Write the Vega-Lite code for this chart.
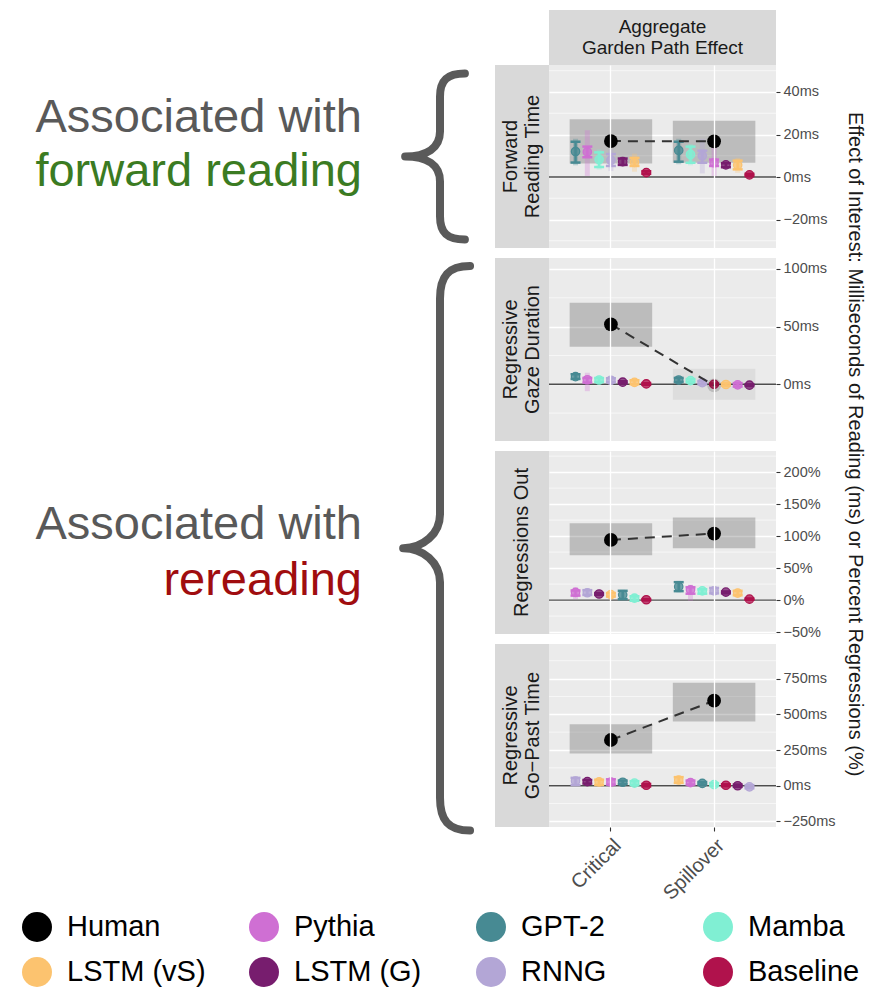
{
"$schema": "https://vega.github.io/schema/vega-lite/v6.json",
"padding": {"left": 0, "top": 10, "right": 20, "bottom": 0},
"config": {"font": "Liberation Sans", "view": {"stroke": null}, "axis": {"labelOverlap": false}},
"datasets": {
"all": [
{"measure":"Forward Reading Time","region":"Critical","model":"Human","v":16.9,"lo":6.4,"hi":27.2},
{"measure":"Forward Reading Time","region":"Spillover","model":"Human","v":16.8,"lo":6.7,"hi":26.5},
{"measure":"Regressive Gaze Duration","region":"Critical","model":"Human","v":52,"lo":32.6,"hi":70.8},
{"measure":"Regressive Gaze Duration","region":"Spillover","model":"Human","v":-1,"lo":-13.5,"hi":13.5},
{"measure":"Regressions Out","region":"Critical","model":"Human","v":94,"lo":70,"hi":120},
{"measure":"Regressions Out","region":"Spillover","model":"Human","v":104,"lo":81,"hi":129},
{"measure":"Regressive Go-Past Time","region":"Critical","model":"Human","v":320,"lo":225,"hi":430},
{"measure":"Regressive Go-Past Time","region":"Spillover","model":"Human","v":595,"lo":450,"hi":720},

{"measure":"Forward Reading Time","region":"Critical","model":"GPT-2","v":12.0,"lo":6.8,"hi":16.6,"lo2":5.5,"hi2":18},
{"measure":"Forward Reading Time","region":"Critical","model":"Pythia","v":11.8,"lo":9.3,"hi":14.3,"lo2":0.5,"hi2":22},
{"measure":"Forward Reading Time","region":"Critical","model":"Mamba","v":8.2,"lo":4.7,"hi":11.6,"lo2":3.5,"hi2":13},
{"measure":"Forward Reading Time","region":"Critical","model":"RNNG","v":7.9,"lo":5.2,"hi":10.8,"lo2":2.8,"hi2":13},
{"measure":"Forward Reading Time","region":"Critical","model":"LSTM (G)","v":7.2,"lo":5.7,"hi":8.7,"lo2":5,"hi2":9.5},
{"measure":"Forward Reading Time","region":"Critical","model":"LSTM (vS)","v":6.9,"lo":5.2,"hi":9.0,"lo2":2.5,"hi2":11},
{"measure":"Forward Reading Time","region":"Critical","model":"Baseline","v":2.1,"lo":1.5,"hi":2.7,"lo2":1.2,"hi2":3},

{"measure":"Forward Reading Time","region":"Spillover","model":"GPT-2","v":12.5,"lo":7.2,"hi":16.6,"lo2":6,"hi2":18},
{"measure":"Forward Reading Time","region":"Spillover","model":"Mamba","v":10.6,"lo":6.7,"hi":14.3,"lo2":5.5,"hi2":15.5},
{"measure":"Forward Reading Time","region":"Spillover","model":"RNNG","v":10.0,"lo":6.7,"hi":12.4,"lo2":1.7,"hi2":18},
{"measure":"Forward Reading Time","region":"Spillover","model":"Pythia","v":6.7,"lo":5.2,"hi":8.2,"lo2":0.5,"hi2":17},
{"measure":"Forward Reading Time","region":"Spillover","model":"LSTM (G)","v":5.7,"lo":4.6,"hi":6.5,"lo2":4,"hi2":7},
{"measure":"Forward Reading Time","region":"Spillover","model":"LSTM (vS)","v":5.6,"lo":3.6,"hi":7.7,"lo2":2,"hi2":9},
{"measure":"Forward Reading Time","region":"Spillover","model":"Baseline","v":1.0,"lo":0.5,"hi":1.5,"lo2":0.3,"hi2":1.7},

{"measure":"Regressive Gaze Duration","region":"Critical","model":"GPT-2","v":6.6,"lo":4.6,"hi":8.7,"lo2":4,"hi2":9.3},
{"measure":"Regressive Gaze Duration","region":"Critical","model":"Pythia","v":3.9,"lo":1.5,"hi":5.5,"lo2":-6,"hi2":10},
{"measure":"Regressive Gaze Duration","region":"Critical","model":"Mamba","v":3.7,"lo":2.0,"hi":5.4,"lo2":1.5,"hi2":6},
{"measure":"Regressive Gaze Duration","region":"Critical","model":"RNNG","v":3.5,"lo":1.8,"hi":5.2,"lo2":0,"hi2":7},
{"measure":"Regressive Gaze Duration","region":"Critical","model":"LSTM (G)","v":1.8,"lo":0.8,"hi":2.6,"lo2":0.5,"hi2":3},
{"measure":"Regressive Gaze Duration","region":"Critical","model":"LSTM (vS)","v":1.7,"lo":0,"hi":3.5,"lo2":-1,"hi2":4.5},
{"measure":"Regressive Gaze Duration","region":"Critical","model":"Baseline","v":0.3,"lo":-0.5,"hi":1.0,"lo2":-0.8,"hi2":1.3},

{"measure":"Regressive Gaze Duration","region":"Spillover","model":"GPT-2","v":3.7,"lo":2.0,"hi":5.5,"lo2":1.5,"hi2":6},
{"measure":"Regressive Gaze Duration","region":"Spillover","model":"Mamba","v":3.2,"lo":1.8,"hi":4.5,"lo2":1.3,"hi2":5},
{"measure":"Regressive Gaze Duration","region":"Spillover","model":"RNNG","v":1.4,"lo":0,"hi":2.8,"lo2":-2,"hi2":4.8},
{"measure":"Regressive Gaze Duration","region":"Spillover","model":"Baseline","v":0,"lo":-0.7,"hi":0.7,"lo2":-1,"hi2":1},
{"measure":"Regressive Gaze Duration","region":"Spillover","model":"LSTM (vS)","v":-0.2,"lo":-1.2,"hi":0.8,"lo2":-1.8,"hi2":1.4},
{"measure":"Regressive Gaze Duration","region":"Spillover","model":"Pythia","v":-0.5,"lo":-2,"hi":1,"lo2":-4,"hi2":3},
{"measure":"Regressive Gaze Duration","region":"Spillover","model":"LSTM (G)","v":-0.8,"lo":-1.5,"hi":-0.1,"lo2":-1.8,"hi2":0.2},

{"measure":"Regressions Out","region":"Critical","model":"Pythia","v":12,"lo":7,"hi":15,"lo2":1.5,"hi2":20},
{"measure":"Regressions Out","region":"Critical","model":"RNNG","v":11.5,"lo":8,"hi":15.5,"lo2":5,"hi2":18},
{"measure":"Regressions Out","region":"Critical","model":"LSTM (G)","v":9.5,"lo":8,"hi":11,"lo2":7,"hi2":12},
{"measure":"Regressions Out","region":"Critical","model":"LSTM (vS)","v":8.5,"lo":5.5,"hi":11,"lo2":4,"hi2":12.5},
{"measure":"Regressions Out","region":"Critical","model":"GPT-2","v":8.2,"lo":1.5,"hi":14.5,"lo2":0,"hi2":16},
{"measure":"Regressions Out","region":"Critical","model":"Mamba","v":3,"lo":-1,"hi":6,"lo2":-2,"hi2":7},
{"measure":"Regressions Out","region":"Critical","model":"Baseline","v":0.5,"lo":-0.5,"hi":1.5,"lo2":-1,"hi2":2},

{"measure":"Regressions Out","region":"Spillover","model":"GPT-2","v":21,"lo":14,"hi":28,"lo2":12,"hi2":30},
{"measure":"Regressions Out","region":"Spillover","model":"Pythia","v":16,"lo":10,"hi":20,"lo2":-1,"hi2":24},
{"measure":"Regressions Out","region":"Spillover","model":"Mamba","v":14.5,"lo":10,"hi":17,"lo2":9,"hi2":18},
{"measure":"Regressions Out","region":"Spillover","model":"RNNG","v":14.3,"lo":10.5,"hi":19,"lo2":8,"hi2":21},
{"measure":"Regressions Out","region":"Spillover","model":"LSTM (G)","v":12.5,"lo":10.5,"hi":13.5,"lo2":10,"hi2":14},
{"measure":"Regressions Out","region":"Spillover","model":"LSTM (vS)","v":11,"lo":7.5,"hi":14.5,"lo2":6,"hi2":16},
{"measure":"Regressions Out","region":"Spillover","model":"Baseline","v":1.5,"lo":0.5,"hi":2.5,"lo2":0,"hi2":3},

{"measure":"Regressive Go-Past Time","region":"Critical","model":"RNNG","v":33,"lo":5,"hi":55,"lo2":-5,"hi2":65},
{"measure":"Regressive Go-Past Time","region":"Critical","model":"LSTM (G)","v":29,"lo":15,"hi":40,"lo2":12,"hi2":44},
{"measure":"Regressive Go-Past Time","region":"Critical","model":"LSTM (vS)","v":27,"lo":5,"hi":42,"lo2":-5,"hi2":50},
{"measure":"Regressive Go-Past Time","region":"Critical","model":"Pythia","v":26,"lo":8,"hi":45,"lo2":-10,"hi2":55},
{"measure":"Regressive Go-Past Time","region":"Critical","model":"GPT-2","v":24,"lo":12,"hi":36,"lo2":8,"hi2":40},
{"measure":"Regressive Go-Past Time","region":"Critical","model":"Mamba","v":18,"lo":5,"hi":32,"lo2":0,"hi2":36},
{"measure":"Regressive Go-Past Time","region":"Critical","model":"Baseline","v":3,"lo":-5,"hi":12,"lo2":-8,"hi2":14},

{"measure":"Regressive Go-Past Time","region":"Spillover","model":"LSTM (vS)","v":40,"lo":20,"hi":60,"lo2":15,"hi2":65},
{"measure":"Regressive Go-Past Time","region":"Spillover","model":"Pythia","v":22,"lo":8,"hi":36,"lo2":0,"hi2":44},
{"measure":"Regressive Go-Past Time","region":"Spillover","model":"GPT-2","v":16,"lo":8,"hi":26,"lo2":5,"hi2":29},
{"measure":"Regressive Go-Past Time","region":"Spillover","model":"Mamba","v":8,"lo":-2,"hi":18,"lo2":-5,"hi2":21},
{"measure":"Regressive Go-Past Time","region":"Spillover","model":"Baseline","v":3,"lo":-4,"hi":10,"lo2":-6,"hi2":12},
{"measure":"Regressive Go-Past Time","region":"Spillover","model":"LSTM (G)","v":0,"lo":-8,"hi":8,"lo2":-10,"hi2":10},
{"measure":"Regressive Go-Past Time","region":"Spillover","model":"RNNG","v":-8,"lo":-18,"hi":4,"lo2":-22,"hi2":8}
],
"annot": [
{"measure":"Forward Reading Time","part":"label","t":"Associated with","k":"a1"},
{"measure":"Forward Reading Time","part":"label","t":"forward reading","k":"a2"},
{"measure":"Regressions Out","part":"label","t":"Associated with","k":"b1"},
{"measure":"Regressions Out","part":"label","t":"rereading","k":"b2"},
{"measure":"Forward Reading Time","part":"brace","t":"","k":"br1"},
{"measure":"Regressions Out","part":"brace","t":"","k":"br2"}
]
},
"spacing": 0,
"vconcat": [
{
"hconcat": [
{"width": 549, "height": 55, "data": {"values": [{"a": 1}]}, "mark": {"type": "point", "opacity": 0}},
{"width": 227, "height": 55, "view": {"fill": "#d9d9d9", "stroke": null},
 "data": {"values": [{"t": "Aggregate\nGarden Path Effect"}]},
 "mark": {"type": "text", "lineBreak": "\n", "fontSize": 19, "color": "#1a1a1a", "lineHeight": 21, "dy": -10.5},
 "encoding": {"text": {"field": "t"}}}
],
"spacing": 0, "bounds": "flush"
},
{
"spacing": 0,
"hconcat": [
{
"width": 495, "height": 762,
"data": {"name": "annot"},
"encoding": {
 "x": {"field": "part", "type": "nominal", "scale": {"type": "point", "domain": ["label", "brace"], "range": [362, 440], "padding": 0}, "axis": null},
 "y": {"field": "measure", "type": "nominal", "scale": {"type": "band", "domain": ["Forward Reading Time", "Regressive Gaze Duration", "Regressions Out", "Regressive Go-Past Time"], "paddingInner": 0.0518, "paddingOuter": 0}, "axis": null}
},
"layer": [
 {"transform": [{"filter": "datum.k === 'a1'"}], "mark": {"type": "text", "align": "right", "baseline": "alphabetic", "fontSize": 47, "dy": -25, "color": "#595959"}, "encoding": {"text": {"field": "t"}}},
 {"transform": [{"filter": "datum.k === 'a2'"}], "mark": {"type": "text", "align": "right", "baseline": "alphabetic", "fontSize": 47, "dy": 29, "color": "#3b7b22"}, "encoding": {"text": {"field": "t"}}},
 {"transform": [{"filter": "datum.k === 'b1'"}], "mark": {"type": "text", "align": "right", "baseline": "alphabetic", "fontSize": 47, "dy": -3, "color": "#595959"}, "encoding": {"text": {"field": "t"}}},
 {"transform": [{"filter": "datum.k === 'b2'"}], "mark": {"type": "text", "align": "right", "baseline": "alphabetic", "fontSize": 47, "dy": 53, "color": "#a00d0f"}, "encoding": {"text": {"field": "t"}}},
 {"transform": [{"filter": "datum.k === 'br1'"}], "mark": {"type": "point", "shape": "M0.3,-1 C0.09,-1 0,-0.92 0,-0.72 L0,-0.3 C0,-0.1 -0.16,0 -0.42,0 C-0.16,0 0,0.1 0,0.3 L0,0.72 C0,0.92 0.09,1 0.3,1", "size": 27556, "filled": false, "color": "#5a5a5a", "strokeWidth": 8, "opacity": 1, "strokeCap": "round", "strokeJoin": "round"}},
 {"transform": [{"filter": "datum.k === 'br2'"}], "mark": {"type": "point", "shape": "M0.106,-0.975 C0.03,-0.975 0,-0.94 0,-0.86 L0,-0.1 C0,-0.03 -0.06,0.02 -0.13,0.02 C-0.06,0.02 0,0.07 0,0.14 L0,0.9 C0,0.98 0.03,1.016 0.106,1.016", "size": 321489, "filled": false, "color": "#5a5a5a", "strokeWidth": 8, "opacity": 1, "strokeCap": "round", "strokeJoin": "round"}}
]
},
{
"title": {"text": "Effect of Interest: Milliseconds of Reading (ms) or Percent Regressions (%)", "orient": "right", "anchor": "middle", "fontSize": 20, "fontWeight": "normal", "color": "#1a1a1a", "offset": 10, "dx": -40},
"columns": 2,
"spacing": {"row": 10, "column": 0},
"bounds": "flush",
"concat": [
{"width": 54, "height": 183, "view": {"fill": "#d9d9d9", "stroke": null}, "data": {"values": [{"t": "Forward\nReading Time"}]}, "mark": {"type": "text", "lineBreak": "\n", "angle": 270, "fontSize": 20, "color": "#1a1a1a", "lineHeight": 22, "dy": -11}, "encoding": {"text": {"field": "t"}}},
{
"width": 227, "height": 183, "view": {"fill": "#ebebeb", "stroke": null},
"data": {"name": "all"},
"transform": [{"filter": "datum.measure === 'Forward Reading Time'"}],
"layer": [
 {"data": {"values": [{"g": -30}, {"g": -10}, {"g": 10}, {"g": 30}, {"g": 50}]}, "mark": {"type": "rule", "color": "#ffffff", "strokeWidth": 0.6},
  "encoding": {"y": {"field": "g", "type": "quantitative", "scale": {"domain": [-33.4, 52.7], "nice": false, "zero": false},
   "axis": {"orient": "right", "title": null, "values": [-20, 0, 20, 40], "tickCount": 20, "labelExpr": "(datum.value < 0 ? '\u2212' : '') + abs(datum.value) + 'ms'", "grid": true, "gridColor": "#ffffff", "gridWidth": 1.3, "tickColor": "#333333", "tickSize": 4, "tickWidth": 1.1, "domain": false, "labelColor": "#4d4d4d", "labelFontSize": 14.5, "labelPadding": 3, "labelOverlap": false, "labelFlush": false}}}},
 {"transform": [{"filter": "datum.model === 'Human' && datum.region === 'Critical'"}], "mark": {"type": "rule", "color": "#4d4d4d", "strokeWidth": 1.4},
  "encoding": {"y": {"datum": 0, "type": "quantitative"}}},
 {"transform": [{"filter": "datum.model === 'Human'"}], "mark": {"type": "rect", "color": "#000000"},
  "encoding": {"x": {"field": "region", "type": "nominal", "scale": {"domain": ["Critical", "Spillover"], "paddingInner": 0.2, "paddingOuter": 0.2}, "axis": {"title": null, "labels": false, "ticks": false, "domain": false, "grid": true, "gridColor": "#ffffff", "gridWidth": 1.3, "bandPosition": 0.5}},
   "y": {"field": "lo", "type": "quantitative"}, "y2": {"field": "hi"},
   "opacity": {"condition": {"test": "datum.lo > 0 || datum.hi < 0", "value": 0.2}, "value": 0.06}}},
 {"transform": [{"filter": "datum.model !== 'Human'"}, {"window": [{"op": "row_number", "as": "rank"}], "groupby": ["region"], "sort": [{"field": "v", "order": "descending"}]}],
  "encoding": {"x": {"field": "region", "type": "nominal", "scale": {"domain": ["Critical", "Spillover"], "paddingInner": 0.2, "paddingOuter": 0.2}},
   "xOffset": {"field": "rank", "type": "ordinal", "scale": {"domain": [1,2,3,4,5,6,7], "paddingInner": 0, "paddingOuter": 0}},
   "color": {"field": "model", "type": "nominal", "scale": {"domain": ["Human","Pythia","GPT-2","Mamba","LSTM (vS)","LSTM (G)","RNNG","Baseline"], "range": ["#000000","#cf6fd3","#478a93","#80efd3","#fcc36f","#771d6e","#b3a6d6","#b0124c"]}}},
  "layer": [
   {"mark": {"type": "rule", "strokeWidth": 5, "opacity": 0.3}, "encoding": {"y": {"field": "lo2", "type": "quantitative"}, "y2": {"field": "hi2"}}},
   {"mark": {"type": "rule", "strokeWidth": 2.5}, "encoding": {"y": {"field": "lo", "type": "quantitative"}, "y2": {"field": "hi"}}},
   {"mark": {"type": "tick", "size": 10, "thickness": 2.5, "opacity": 1}, "encoding": {"y": {"field": "lo", "type": "quantitative"}}},
   {"mark": {"type": "tick", "size": 10, "thickness": 2.5, "opacity": 1}, "encoding": {"y": {"field": "hi", "type": "quantitative"}}},
   {"mark": {"type": "point", "shape": "circle", "filled": true, "size": 70, "opacity": 0.75}, "encoding": {"y": {"field": "v", "type": "quantitative"}}},
   {"mark": {"type": "point", "shape": "circle", "filled": false, "size": 70, "strokeWidth": 1.3, "opacity": 1}, "encoding": {"y": {"field": "v", "type": "quantitative"}}}
  ]},
 {"transform": [{"filter": "datum.model === 'Human'"}], "mark": {"type": "line", "color": "#333333", "strokeWidth": 2, "strokeDash": [10, 7]},
  "encoding": {"x": {"field": "region", "type": "nominal", "scale": {"domain": ["Critical", "Spillover"], "paddingInner": 0.2, "paddingOuter": 0.2}}, "y": {"field": "v", "type": "quantitative"}}},
 {"transform": [{"filter": "datum.model === 'Human'"}], "mark": {"type": "point", "shape": "circle", "filled": true, "size": 190},
  "encoding": {"x": {"field": "region", "type": "nominal", "scale": {"domain": ["Critical", "Spillover"], "paddingInner": 0.2, "paddingOuter": 0.2}}, "y": {"field": "v", "type": "quantitative"},
   "opacity": {"condition": {"test": "datum.lo > 0 || datum.hi < 0", "value": 1}, "value": 0.15},
   "color": {"field": "model", "type": "nominal", "scale": {"domain": ["Human","Pythia","GPT-2","Mamba","LSTM (vS)","LSTM (G)","RNNG","Baseline"], "range": ["#000000","#cf6fd3","#478a93","#80efd3","#fcc36f","#771d6e","#b3a6d6","#b0124c"]},
    "legend": {"title": null, "orient": "none", "legendX": 22, "legendY": 902, "direction": "horizontal", "columns": 4, "gridAlign": "all", "symbolType": "circle", "symbolSize": 900, "symbolStrokeWidth": 0, "symbolOpacity": 1, "labelFontSize": 29, "labelColor": "#000000", "labelOffset": 15, "columnPadding": 43, "rowPadding": 15, "padding": 0, "labelLimit": 300,
     "encode": {"symbols": {"update": {"opacity": {"value": 1}, "fill": {"scale": "color", "field": "value"}, "stroke": {"value": "transparent"}}}}}}}}
]
},
{"width": 54, "height": 183, "view": {"fill": "#d9d9d9", "stroke": null}, "data": {"values": [{"t": "Regressive\nGaze Duration"}]}, "mark": {"type": "text", "lineBreak": "\n", "angle": 270, "fontSize": 20, "color": "#1a1a1a", "lineHeight": 22, "dy": -11}, "encoding": {"text": {"field": "t"}}},
{
"width": 227, "height": 183, "view": {"fill": "#ebebeb", "stroke": null},
"data": {"name": "all"},
"transform": [{"filter": "datum.measure === 'Regressive Gaze Duration'"}],
"layer": [
 {"data": {"values": [{"g": -25}, {"g": 25}, {"g": 75}]}, "mark": {"type": "rule", "color": "#ffffff", "strokeWidth": 0.6},
  "encoding": {"y": {"field": "g", "type": "quantitative", "scale": {"domain": [-49.2, 109.5], "nice": false, "zero": false},
   "axis": {"orient": "right", "title": null, "values": [0, 50, 100], "tickCount": 20, "labelExpr": "(datum.value < 0 ? '\u2212' : '') + abs(datum.value) + 'ms'", "grid": true, "gridColor": "#ffffff", "gridWidth": 1.3, "tickColor": "#333333", "tickSize": 4, "tickWidth": 1.1, "domain": false, "labelColor": "#4d4d4d", "labelFontSize": 14.5, "labelPadding": 3, "labelOverlap": false, "labelFlush": false}}}},
 {"transform": [{"filter": "datum.model === 'Human' && datum.region === 'Critical'"}], "mark": {"type": "rule", "color": "#4d4d4d", "strokeWidth": 1.4},
  "encoding": {"y": {"datum": 0, "type": "quantitative"}}},
 {"transform": [{"filter": "datum.model === 'Human'"}], "mark": {"type": "rect", "color": "#000000"},
  "encoding": {"x": {"field": "region", "type": "nominal", "scale": {"domain": ["Critical", "Spillover"], "paddingInner": 0.2, "paddingOuter": 0.2}, "axis": {"title": null, "labels": false, "ticks": false, "domain": false, "grid": true, "gridColor": "#ffffff", "gridWidth": 1.3, "bandPosition": 0.5}},
   "y": {"field": "lo", "type": "quantitative"}, "y2": {"field": "hi"},
   "opacity": {"condition": {"test": "datum.lo > 0 || datum.hi < 0", "value": 0.2}, "value": 0.06}}},
 {"transform": [{"filter": "datum.model !== 'Human'"}, {"window": [{"op": "row_number", "as": "rank"}], "groupby": ["region"], "sort": [{"field": "v", "order": "descending"}]}],
  "encoding": {"x": {"field": "region", "type": "nominal", "scale": {"domain": ["Critical", "Spillover"], "paddingInner": 0.2, "paddingOuter": 0.2}},
   "xOffset": {"field": "rank", "type": "ordinal", "scale": {"domain": [1,2,3,4,5,6,7], "paddingInner": 0, "paddingOuter": 0}},
   "color": {"field": "model", "type": "nominal", "scale": {"domain": ["Human","Pythia","GPT-2","Mamba","LSTM (vS)","LSTM (G)","RNNG","Baseline"], "range": ["#000000","#cf6fd3","#478a93","#80efd3","#fcc36f","#771d6e","#b3a6d6","#b0124c"]}}},
  "layer": [
   {"mark": {"type": "rule", "strokeWidth": 5, "opacity": 0.3}, "encoding": {"y": {"field": "lo2", "type": "quantitative"}, "y2": {"field": "hi2"}}},
   {"mark": {"type": "rule", "strokeWidth": 2.5}, "encoding": {"y": {"field": "lo", "type": "quantitative"}, "y2": {"field": "hi"}}},
   {"mark": {"type": "tick", "size": 10, "thickness": 2.5, "opacity": 1}, "encoding": {"y": {"field": "lo", "type": "quantitative"}}},
   {"mark": {"type": "tick", "size": 10, "thickness": 2.5, "opacity": 1}, "encoding": {"y": {"field": "hi", "type": "quantitative"}}},
   {"mark": {"type": "point", "shape": "circle", "filled": true, "size": 70, "opacity": 0.75}, "encoding": {"y": {"field": "v", "type": "quantitative"}}},
   {"mark": {"type": "point", "shape": "circle", "filled": false, "size": 70, "strokeWidth": 1.3, "opacity": 1}, "encoding": {"y": {"field": "v", "type": "quantitative"}}}
  ]},
 {"transform": [{"filter": "datum.model === 'Human'"}], "mark": {"type": "line", "color": "#333333", "strokeWidth": 2, "strokeDash": [10, 7]},
  "encoding": {"x": {"field": "region", "type": "nominal", "scale": {"domain": ["Critical", "Spillover"], "paddingInner": 0.2, "paddingOuter": 0.2}}, "y": {"field": "v", "type": "quantitative"}}},
 {"transform": [{"filter": "datum.model === 'Human'"}], "mark": {"type": "point", "shape": "circle", "filled": true, "size": 190},
  "encoding": {"x": {"field": "region", "type": "nominal", "scale": {"domain": ["Critical", "Spillover"], "paddingInner": 0.2, "paddingOuter": 0.2}}, "y": {"field": "v", "type": "quantitative"},
   "opacity": {"condition": {"test": "datum.lo > 0 || datum.hi < 0", "value": 1}, "value": 0.15},
   "color": {"field": "model", "type": "nominal", "scale": {"domain": ["Human","Pythia","GPT-2","Mamba","LSTM (vS)","LSTM (G)","RNNG","Baseline"], "range": ["#000000","#cf6fd3","#478a93","#80efd3","#fcc36f","#771d6e","#b3a6d6","#b0124c"]}}}}
]
},
{"width": 54, "height": 183, "view": {"fill": "#d9d9d9", "stroke": null}, "data": {"values": [{"t": "Regressions Out"}]}, "mark": {"type": "text", "lineBreak": "\n", "angle": 270, "fontSize": 20, "color": "#1a1a1a", "lineHeight": 22}, "encoding": {"text": {"field": "t"}}},
{
"width": 227, "height": 183, "view": {"fill": "#ebebeb", "stroke": null},
"data": {"name": "all"},
"transform": [{"filter": "datum.measure === 'Regressions Out'"}],
"layer": [
 {"data": {"values": [{"g": -25}, {"g": 25}, {"g": 75}, {"g": 125}, {"g": 175}, {"g": 225}]}, "mark": {"type": "rule", "color": "#ffffff", "strokeWidth": 0.6},
  "encoding": {"y": {"field": "g", "type": "quantitative", "scale": {"domain": [-53, 233], "nice": false, "zero": false},
   "axis": {"orient": "right", "title": null, "values": [-50, 0, 50, 100, 150, 200], "tickCount": 20, "labelExpr": "(datum.value < 0 ? '\u2212' : '') + abs(datum.value) + '%'", "grid": true, "gridColor": "#ffffff", "gridWidth": 1.3, "tickColor": "#333333", "tickSize": 4, "tickWidth": 1.1, "domain": false, "labelColor": "#4d4d4d", "labelFontSize": 14.5, "labelPadding": 3, "labelOverlap": false, "labelFlush": false}}}},
 {"transform": [{"filter": "datum.model === 'Human' && datum.region === 'Critical'"}], "mark": {"type": "rule", "color": "#4d4d4d", "strokeWidth": 1.4},
  "encoding": {"y": {"datum": 0, "type": "quantitative"}}},
 {"transform": [{"filter": "datum.model === 'Human'"}], "mark": {"type": "rect", "color": "#000000"},
  "encoding": {"x": {"field": "region", "type": "nominal", "scale": {"domain": ["Critical", "Spillover"], "paddingInner": 0.2, "paddingOuter": 0.2}, "axis": {"title": null, "labels": false, "ticks": false, "domain": false, "grid": true, "gridColor": "#ffffff", "gridWidth": 1.3, "bandPosition": 0.5}},
   "y": {"field": "lo", "type": "quantitative"}, "y2": {"field": "hi"},
   "opacity": {"condition": {"test": "datum.lo > 0 || datum.hi < 0", "value": 0.2}, "value": 0.06}}},
 {"transform": [{"filter": "datum.model !== 'Human'"}, {"window": [{"op": "row_number", "as": "rank"}], "groupby": ["region"], "sort": [{"field": "v", "order": "descending"}]}],
  "encoding": {"x": {"field": "region", "type": "nominal", "scale": {"domain": ["Critical", "Spillover"], "paddingInner": 0.2, "paddingOuter": 0.2}},
   "xOffset": {"field": "rank", "type": "ordinal", "scale": {"domain": [1,2,3,4,5,6,7], "paddingInner": 0, "paddingOuter": 0}},
   "color": {"field": "model", "type": "nominal", "scale": {"domain": ["Human","Pythia","GPT-2","Mamba","LSTM (vS)","LSTM (G)","RNNG","Baseline"], "range": ["#000000","#cf6fd3","#478a93","#80efd3","#fcc36f","#771d6e","#b3a6d6","#b0124c"]}}},
  "layer": [
   {"mark": {"type": "rule", "strokeWidth": 5, "opacity": 0.3}, "encoding": {"y": {"field": "lo2", "type": "quantitative"}, "y2": {"field": "hi2"}}},
   {"mark": {"type": "rule", "strokeWidth": 2.5}, "encoding": {"y": {"field": "lo", "type": "quantitative"}, "y2": {"field": "hi"}}},
   {"mark": {"type": "tick", "size": 10, "thickness": 2.5, "opacity": 1}, "encoding": {"y": {"field": "lo", "type": "quantitative"}}},
   {"mark": {"type": "tick", "size": 10, "thickness": 2.5, "opacity": 1}, "encoding": {"y": {"field": "hi", "type": "quantitative"}}},
   {"mark": {"type": "point", "shape": "circle", "filled": true, "size": 70, "opacity": 0.75}, "encoding": {"y": {"field": "v", "type": "quantitative"}}},
   {"mark": {"type": "point", "shape": "circle", "filled": false, "size": 70, "strokeWidth": 1.3, "opacity": 1}, "encoding": {"y": {"field": "v", "type": "quantitative"}}}
  ]},
 {"transform": [{"filter": "datum.model === 'Human'"}], "mark": {"type": "line", "color": "#333333", "strokeWidth": 2, "strokeDash": [10, 7]},
  "encoding": {"x": {"field": "region", "type": "nominal", "scale": {"domain": ["Critical", "Spillover"], "paddingInner": 0.2, "paddingOuter": 0.2}}, "y": {"field": "v", "type": "quantitative"}}},
 {"transform": [{"filter": "datum.model === 'Human'"}], "mark": {"type": "point", "shape": "circle", "filled": true, "size": 190},
  "encoding": {"x": {"field": "region", "type": "nominal", "scale": {"domain": ["Critical", "Spillover"], "paddingInner": 0.2, "paddingOuter": 0.2}}, "y": {"field": "v", "type": "quantitative"},
   "opacity": {"condition": {"test": "datum.lo > 0 || datum.hi < 0", "value": 1}, "value": 0.15},
   "color": {"field": "model", "type": "nominal", "scale": {"domain": ["Human","Pythia","GPT-2","Mamba","LSTM (vS)","LSTM (G)","RNNG","Baseline"], "range": ["#000000","#cf6fd3","#478a93","#80efd3","#fcc36f","#771d6e","#b3a6d6","#b0124c"]}}}}
]
},
{"width": 54, "height": 183, "view": {"fill": "#d9d9d9", "stroke": null}, "data": {"values": [{"t": "Regressive\nGo\u2212Past Time"}]}, "mark": {"type": "text", "lineBreak": "\n", "angle": 270, "fontSize": 20, "color": "#1a1a1a", "lineHeight": 22, "dy": -11}, "encoding": {"text": {"field": "t"}}},
{
"width": 227, "height": 183, "view": {"fill": "#ebebeb", "stroke": null},
"data": {"name": "all"},
"transform": [{"filter": "datum.measure === 'Regressive Go-Past Time'"}],
"layer": [
 {"data": {"values": [{"g": -125}, {"g": 125}, {"g": 375}, {"g": 625}, {"g": 875}]}, "mark": {"type": "rule", "color": "#ffffff", "strokeWidth": 0.6},
  "encoding": {"y": {"field": "g", "type": "quantitative", "scale": {"domain": [-289, 992], "nice": false, "zero": false},
   "axis": {"orient": "right", "title": null, "values": [-250, 0, 250, 500, 750], "tickCount": 20, "labelExpr": "(datum.value < 0 ? '\u2212' : '') + abs(datum.value) + 'ms'", "grid": true, "gridColor": "#ffffff", "gridWidth": 1.3, "tickColor": "#333333", "tickSize": 4, "tickWidth": 1.1, "domain": false, "labelColor": "#4d4d4d", "labelFontSize": 14.5, "labelPadding": 3, "labelOverlap": false, "labelFlush": false}}}},
 {"transform": [{"filter": "datum.model === 'Human' && datum.region === 'Critical'"}], "mark": {"type": "rule", "color": "#4d4d4d", "strokeWidth": 1.4},
  "encoding": {"y": {"datum": 0, "type": "quantitative"}}},
 {"transform": [{"filter": "datum.model === 'Human'"}], "mark": {"type": "rect", "color": "#000000"},
  "encoding": {"x": {"field": "region", "type": "nominal", "scale": {"domain": ["Critical", "Spillover"], "paddingInner": 0.2, "paddingOuter": 0.2}, "axis": {"title": null, "labels": true, "ticks": true, "tickSize": 4, "tickColor": "#333333", "tickWidth": 1.1, "domain": false, "grid": true, "gridColor": "#ffffff", "gridWidth": 1.3, "bandPosition": 0.5, "labelAngle": -45, "labelAlign": "right", "labelBaseline": "top", "labelFontSize": 20, "labelColor": "#4d4d4d", "labelPadding": 4}},
   "y": {"field": "lo", "type": "quantitative"}, "y2": {"field": "hi"},
   "opacity": {"condition": {"test": "datum.lo > 0 || datum.hi < 0", "value": 0.2}, "value": 0.06}}},
 {"transform": [{"filter": "datum.model !== 'Human'"}, {"window": [{"op": "row_number", "as": "rank"}], "groupby": ["region"], "sort": [{"field": "v", "order": "descending"}]}],
  "encoding": {"x": {"field": "region", "type": "nominal", "scale": {"domain": ["Critical", "Spillover"], "paddingInner": 0.2, "paddingOuter": 0.2}},
   "xOffset": {"field": "rank", "type": "ordinal", "scale": {"domain": [1,2,3,4,5,6,7], "paddingInner": 0, "paddingOuter": 0}},
   "color": {"field": "model", "type": "nominal", "scale": {"domain": ["Human","Pythia","GPT-2","Mamba","LSTM (vS)","LSTM (G)","RNNG","Baseline"], "range": ["#000000","#cf6fd3","#478a93","#80efd3","#fcc36f","#771d6e","#b3a6d6","#b0124c"]}}},
  "layer": [
   {"mark": {"type": "rule", "strokeWidth": 5, "opacity": 0.3}, "encoding": {"y": {"field": "lo2", "type": "quantitative"}, "y2": {"field": "hi2"}}},
   {"mark": {"type": "rule", "strokeWidth": 2.5}, "encoding": {"y": {"field": "lo", "type": "quantitative"}, "y2": {"field": "hi"}}},
   {"mark": {"type": "tick", "size": 10, "thickness": 2.5, "opacity": 1}, "encoding": {"y": {"field": "lo", "type": "quantitative"}}},
   {"mark": {"type": "tick", "size": 10, "thickness": 2.5, "opacity": 1}, "encoding": {"y": {"field": "hi", "type": "quantitative"}}},
   {"mark": {"type": "point", "shape": "circle", "filled": true, "size": 70, "opacity": 0.75}, "encoding": {"y": {"field": "v", "type": "quantitative"}}},
   {"mark": {"type": "point", "shape": "circle", "filled": false, "size": 70, "strokeWidth": 1.3, "opacity": 1}, "encoding": {"y": {"field": "v", "type": "quantitative"}}}
  ]},
 {"transform": [{"filter": "datum.model === 'Human'"}], "mark": {"type": "line", "color": "#333333", "strokeWidth": 2, "strokeDash": [10, 7]},
  "encoding": {"x": {"field": "region", "type": "nominal", "scale": {"domain": ["Critical", "Spillover"], "paddingInner": 0.2, "paddingOuter": 0.2}}, "y": {"field": "v", "type": "quantitative"}}},
 {"transform": [{"filter": "datum.model === 'Human'"}], "mark": {"type": "point", "shape": "circle", "filled": true, "size": 190},
  "encoding": {"x": {"field": "region", "type": "nominal", "scale": {"domain": ["Critical", "Spillover"], "paddingInner": 0.2, "paddingOuter": 0.2}}, "y": {"field": "v", "type": "quantitative"},
   "opacity": {"condition": {"test": "datum.lo > 0 || datum.hi < 0", "value": 1}, "value": 0.15},
   "color": {"field": "model", "type": "nominal", "scale": {"domain": ["Human","Pythia","GPT-2","Mamba","LSTM (vS)","LSTM (G)","RNNG","Baseline"], "range": ["#000000","#cf6fd3","#478a93","#80efd3","#fcc36f","#771d6e","#b3a6d6","#b0124c"]}}}}
]
}
]
}
]
}
]
}
